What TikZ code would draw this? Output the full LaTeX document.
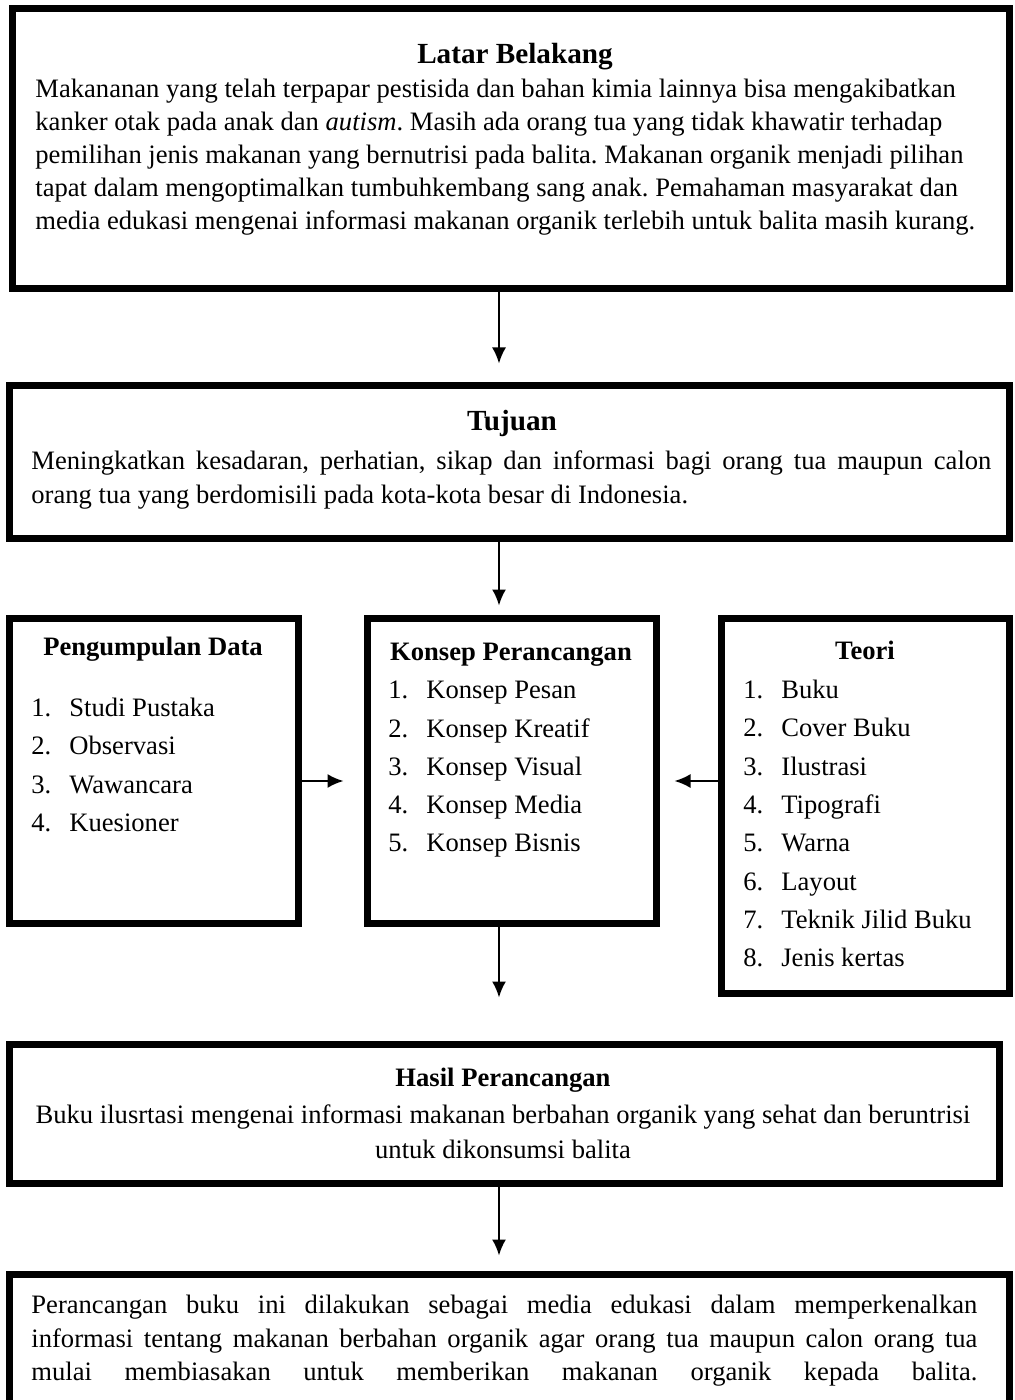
\documentclass[tikz,border=0pt]{standalone}
\usepackage{fontspec}
\setmainfont{Liberation Serif}
\usetikzlibrary{positioning,arrows.meta}
\frenchspacing

\newcommand{\numitem}[2]{\makebox[19pt][l]{#1.}#2}

\begin{document}
\begin{tikzpicture}[x=0.5pt, y=-0.5pt, >={Latex[length=8pt,width=7pt]},
     box/.style = {draw=black, line width=3.5pt, outer sep=1.75pt, inner sep=0pt},
     flow/.style = {->, line width=1pt},
     title/.style = {inner sep=0pt, anchor=base,
         font=\fontsize{13.3}{16}\selectfont\bfseries},
     bigtitle/.style = {inner sep=0pt, anchor=base,
         font=\fontsize{14.6}{17}\selectfont\bfseries},
     para/.style = {inner sep=0pt, anchor=north west,
         font=\fontsize{13.3}{#1}\selectfont},
     list/.style = {inner sep=0pt, anchor=north west, align=left,
         font=\fontsize{13.3}{19.15pt}\selectfont}]
    \useasboundingbox (0,0) rectangle (1014,1400);
    \clip (0,0) rectangle (1014,1400);
    \coordinate (spine) at (499,0);
    \coordinate (midrow) at (0,781);

    % boxes
    \node [box, minimum width=498.5pt, minimum height=140.25pt]
        at (510.5,148.75) (latar) {};
    \node [box, minimum width=500pt, minimum height=76pt]
        at (509,462) (tujuan) {};
    \node [box, minimum width=144.25pt, minimum height=152.5pt]
        at (153.75,770.5) (data) {};
    \node [box, minimum width=144.5pt, minimum height=152.5pt]
        at (511.5,770.5) (konsep) {};
    \node [box, minimum width=144pt, minimum height=187.5pt]
        at (865,805.5) (teori) {};
    \node [box, minimum width=495pt, minimum height=69.5pt]
        at (504,1113.5) (hasil) {};
    \node [box, minimum width=500pt, minimum height=78pt]
        at (509,1352) (simpulan) {};

    % latar belakang
    \node [bigtitle] at (515,64) (latar-title) {Latar Belakang};
    \node [para=16.5pt, align=left] at (35,78.8) (latar-text)
        {Makananan yang telah terpapar pestisida dan bahan kimia lainnya bisa mengakibatkan\\
         kanker otak pada anak dan \textit{autism}. Masih ada orang tua yang tidak khawatir terhadap\\
         pemilihan jenis makanan yang bernutrisi pada balita. Makanan organik menjadi pilihan\\
         tapat dalam mengoptimalkan tumbuhkembang sang anak. Pemahaman masyarakat dan\\
         media edukasi mengenai informasi makanan organik terlebih untuk balita masih kurang.};

    % tujuan
    \node [bigtitle] at (512,431) (tujuan-title) {Tujuan};
    \node [para=17pt, text width=480pt, align=justify] at (31,450.8) (tujuan-text)
        {Meningkatkan kesadaran, perhatian, sikap dan informasi bagi orang tua maupun calon\linebreak
         orang tua yang berdomisili pada kota-kota besar di Indonesia.};

    % three columns
    \node [title] at (153,655) (data-title) {Pengumpulan Data};
    \node [list] at (31,697.8) (data-list)
        {\numitem{1}{Studi Pustaka}\\ \numitem{2}{Observasi}\\
         \numitem{3}{Wawancara}\\ \numitem{4}{Kuesioner}};
    \node [title] at (511,660) (konsep-title) {Konsep Perancangan};
    \node [list] at (388,680.8) (konsep-list)
        {\numitem{1}{Konsep Pesan}\\ \numitem{2}{Konsep Kreatif}\\
         \numitem{3}{Konsep Visual}\\ \numitem{4}{Konsep Media}\\
         \numitem{5}{Konsep Bisnis}};
    \node [title] at (865,659) (teori-title) {Teori};
    \node [list] at (743,679.8) (teori-list)
        {\numitem{1}{Buku}\\ \numitem{2}{Cover Buku}\\ \numitem{3}{Ilustrasi}\\
         \numitem{4}{Tipografi}\\ \numitem{5}{Warna}\\ \numitem{6}{Layout}\\
         \numitem{7}{Teknik Jilid Buku}\\ \numitem{8}{Jenis kertas}};

    % hasil
    \node [title] at (503,1086) (hasil-title) {Hasil Perancangan};
    \node [para=17.5pt, anchor=north, align=center] at (503,1104.8) (hasil-text)
        {Buku ilusrtasi mengenai informasi makanan berbahan organik yang sehat dan beruntrisi\\
         untuk dikonsumsi balita};

    % penutup
    \node [para=16.75pt, text width=473pt, align=justify] at (31,1294.8) (simpulan-text)
        {\parfillskip=0pt Perancangan buku ini dilakukan sebagai media edukasi dalam memperkenalkan\linebreak
         informasi tentang makanan berbahan organik agar orang tua maupun calon orang tua\linebreak
         mulai membiasakan untuk memberikan makanan organik kepada balita.\par};

    % arrows
    \draw [flow, shorten >=9.5pt] (latar.south -| spine) -- (tujuan.north -| spine);
    \draw [flow, shorten >=4.5pt] (tujuan.south -| spine) -- (konsep.north -| spine);
    \draw [flow, shorten >=10pt] (data.east |- midrow) -- (konsep.west |- midrow);
    \draw [flow, shorten >=7.5pt] (teori.west |- midrow) -- (konsep.east |- midrow);
    \draw [flow, shorten >=21.5pt] (konsep.south -| spine) -- (hasil.north -| spine);
    \draw [flow, shorten >=7.5pt] (hasil.south -| spine) -- (simpulan.north -| spine);
\end{tikzpicture}
\end{document}
